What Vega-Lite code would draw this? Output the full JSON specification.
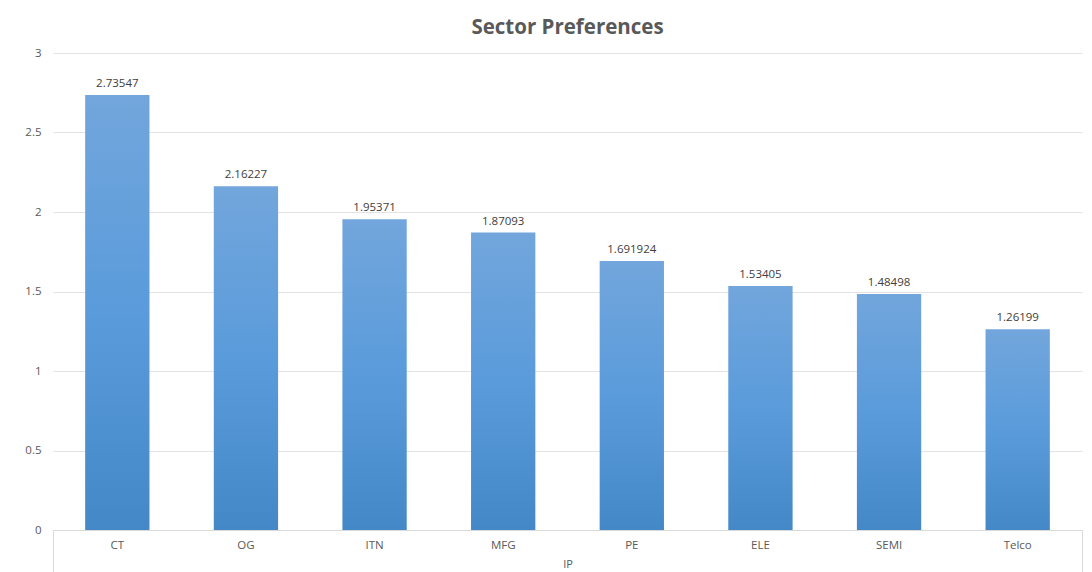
{
  "$schema": "https://vega.github.io/schema/vega-lite/v6.json",
  "autosize": "none",
  "width": 1029,
  "height": 477,
  "padding": {"left": 53, "top": 53, "right": 10, "bottom": 42},
  "background": "white",
  "title": {
    "text": "Sector Preferences",
    "anchor": "middle",
    "fontSize": 20.5,
    "font": "Open Sans",
    "fontWeight": "bold",
    "color": "#595959",
    "offset": 9
  },
  "config": {
    "view": {"stroke": null},
    "axis": {"labelFont": "Open Sans", "titleFont": "Open Sans", "labelColor": "#595959", "titleColor": "#595959"}
  },
  "data": {
    "values": [
      {"sector": "CT", "value": 2.73547},
      {"sector": "OG", "value": 2.16227},
      {"sector": "ITN", "value": 1.95371},
      {"sector": "MFG", "value": 1.87093},
      {"sector": "PE", "value": 1.691924},
      {"sector": "ELE", "value": 1.53405},
      {"sector": "SEMI", "value": 1.48498},
      {"sector": "Telco", "value": 1.26199}
    ]
  },
  "encoding": {
    "x": {"field": "sector", "type": "nominal", "sort": null, "scale": {"paddingInner": 0.5, "paddingOuter": 0.25}},
    "y": {"field": "value", "type": "quantitative", "scale": {"domain": [0, 3], "nice": false}}
  },
  "layer": [
    {
      "mark": {
        "type": "bar",
        "color": {
          "gradient": "linear", "x1": 0, "y1": 0, "x2": 0, "y2": 1,
          "stops": [
            {"offset": 0, "color": "#72a6dc"},
            {"offset": 0.5, "color": "#5a9bdb"},
            {"offset": 1, "color": "#4488c8"}
          ]
        }
      },
      "encoding": {
        "x": {
          "field": "sector", "type": "nominal", "sort": null,
          "axis": {
            "title": "IP", "titleFontSize": 11, "titleFontWeight": "normal", "titlePadding": 8,
            "labelAngle": 0, "labelFontSize": 11.5, "labelPadding": 9,
            "ticks": false, "tickSize": 0, "domain": true, "domainColor": "#d9d9d9", "grid": false, "orient": "bottom"
          }
        },
        "y": {
          "field": "value", "type": "quantitative",
          "axis": {
            "title": null, "values": [0, 0.5, 1, 1.5, 2, 2.5, 3], "format": "~g",
            "labelFontSize": 11.5, "labelPadding": 12, "ticks": false, "tickSize": 0,
            "domain": false, "grid": true, "gridColor": "#e3e3e3"
          }
        }
      }
    },
    {
      "mark": {"type": "text", "baseline": "bottom", "dy": -6, "fontSize": 11.5, "font": "Open Sans", "color": "#404040"},
      "encoding": {
        "x": {
          "field": "sector", "type": "nominal", "sort": null,
          "axis": {
            "values": ["CT"], "bandPosition": -0.5, "orient": "bottom", "labels": false, "title": null,
            "domain": false, "ticks": true, "tickSize": 42, "tickColor": "#d9d9d9", "grid": false
          }
        },
        "text": {"field": "value", "type": "quantitative", "format": ".7~g"}
      }
    },
    {
      "mark": {"type": "text", "text": "", "opacity": 0},
      "encoding": {
        "x": {
          "field": "sector", "type": "nominal", "sort": null,
          "axis": {
            "values": ["Telco"], "bandPosition": 1.5, "orient": "bottom", "labels": false, "title": null,
            "domain": false, "ticks": true, "tickSize": 42, "tickColor": "#d9d9d9", "grid": false
          }
        }
      }
    }
  ],
  "resolve": {"axis": {"x": "independent"}}
}
